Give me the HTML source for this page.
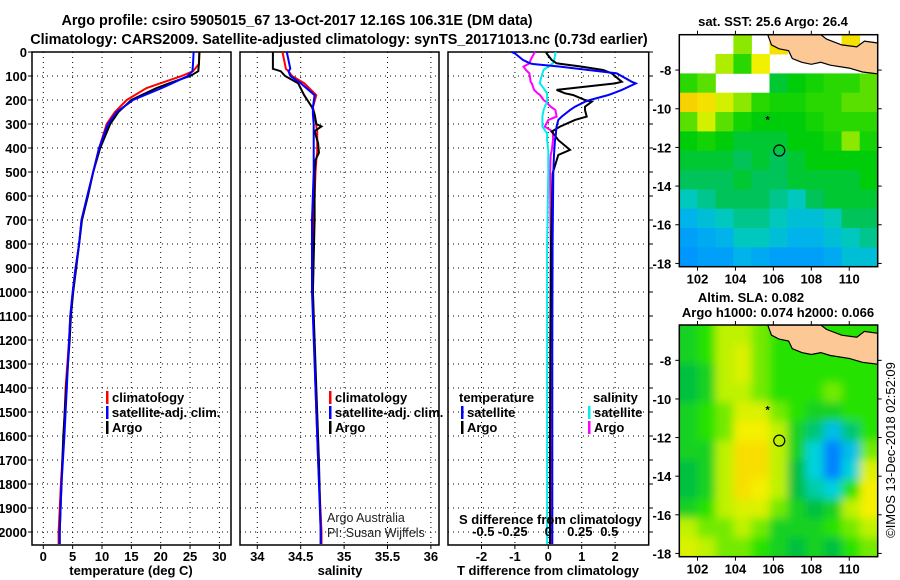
<!DOCTYPE html>
<html><head><meta charset="utf-8"><style>
body{margin:0;background:#fff}
svg{display:block;font-family:"Liberation Sans",Arial,sans-serif}
.b{font-weight:bold}
</style></head><body>
<svg id="c" width="900" height="580" viewBox="0 0 900 580">
<defs>
<clipPath id="m1c"><rect x="679.3" y="34.7" width="198.4" height="232"/></clipPath>
<clipPath id="m2c"><rect x="679.3" y="325" width="198.4" height="231.7"/></clipPath>
<filter id="blur" x="-5%" y="-5%" width="110%" height="110%"><feGaussianBlur stdDeviation="4.5"/></filter>
</defs>
<g class="b" font-size="14.4">
<text x="297" y="25" text-anchor="middle">Argo profile: csiro 5905015_67 13-Oct-2017 12.16S 106.31E (DM data)</text>
<text x="339" y="44" text-anchor="middle">Climatology: CARS2009. Satellite-adjusted climatology: synTS_20171013.nc (0.73d earlier)</text>
</g>
<g id="g"></g>
</svg>
<script>
// ---------- profile data ----------
const tDepth = [0,50,80,100,130,150,200,250,300,400,500,600,700,800,900,1000,1100,1200,1400,1600,1800,2000,2050];
const tClim  = [26.6,26.5,25.5,23.6,20.0,17.6,14.2,12.2,10.8,9.5,8.5,7.5,6.5,6.1,5.5,5.0,4.6,4.4,3.8,3.5,3.0,2.6,2.6];
const tSat   = [25.6,25.5,25.4,24.6,22.0,20.2,15.3,12.5,11.0,9.5,8.5,7.5,6.5,6.1,5.5,5.0,4.6,4.4,4.0,3.6,3.1,2.8,2.8];
const tArgo  = [26.6,26.5,26.4,25.0,21.5,19.3,15.0,12.8,11.4,9.7,8.5,7.6,6.6,6.1,5.6,5.1,4.7,4.5,3.9,3.4,3.1,2.8,2.8];
const sDepth = [0,70,80,100,130,180,230,260,300,310,330,380,420,450,500,700,1000,1400,1700,2000,2050];
const sClim  = [34.29,34.33,34.36,34.40,34.54,34.68,34.64,34.66,34.68,34.68,34.69,34.69,34.69,34.68,34.67,34.65,34.64,34.67,34.70,34.74,34.74];
const sSat   = [34.34,34.38,34.36,34.38,34.50,34.66,34.64,34.64,34.65,34.65,34.65,34.65,34.65,34.65,34.65,34.63,34.63,34.67,34.70,34.73,34.73];
const sArgo  = [34.18,34.18,34.27,34.32,34.47,34.54,34.63,34.66,34.68,34.74,34.66,34.70,34.71,34.67,34.66,34.66,34.64,34.68,34.71,34.73,34.73];
const dDepth = [0,6,33,47,50,61,75,89,124,131,158,172,179,200,207,228,242,269,283,311,332,339,367,408,429,506,800,1200,1600,2050];
const dTsat  = [-1.1,-1.0,-0.76,-0.55,-0.46,0.35,1.2,2.05,2.5,2.62,2.2,1.94,1.8,1.25,1.1,0.8,0.65,0.4,0.3,0.25,0.23,0.23,0.2,0.18,0.17,0.15,0.13,0.12,0.12,0.12];
const dTargo = [-0.05,-0.05,0.1,0.25,0.4,1.0,1.64,1.9,2.2,2.0,0.25,0.5,0.74,1.1,1.3,1.1,1.1,1.15,0.8,0.35,0.1,0.15,0.3,0.65,0.3,0.13,0.08,0.06,0.05,0.05];
const dSsat  = [0.06,0.06,0.05,0.04,0.03,0.0,-0.04,-0.05,-0.07,-0.07,-0.03,-0.01,-0.01,-0.01,-0.01,-0.03,-0.04,-0.05,-0.05,-0.05,-0.02,-0.01,-0.01,0.0,0.0,0.0,-0.01,-0.01,-0.01,-0.01];
const dSargo = [-0.11,-0.12,-0.15,-0.16,-0.17,-0.21,-0.19,-0.16,-0.15,-0.14,-0.12,-0.09,-0.07,-0.04,-0.02,0.02,0.06,0.07,0.0,-0.03,0.04,0.04,0.04,0.03,0.02,0.015,0.02,0.02,0.02,0.02];
const depthTicks = [0,100,200,300,400,500,600,700,800,900,1000,1100,1200,1300,1400,1500,1600,1700,1800,1900,2000];
const tTicks = [0,5,10,15,20,25,30];
const sTicks = [34,34.5,35,35.5,36];
const dTTicks = [-2,-1,0,1,2];
const dSTicks = [-0.5,-0.25,0,0.25,0.5];
const dSTickLabels = ["-0.5","-0.25","0","0.25","0.5"];
// ---------- map data ----------
const mapLons = [101.04,111.5];
const mapLats = [-6.17,-18.17];
const lonTicks = [102,104,106,108,110];
const latTicks = [-8,-10,-12,-14,-16,-18];
const sstGrid = [
[null,null,null,25.8,null,26.3,null,null,null,26.3,null],
[null,null,25.9,25.6,26.2,null,null,null,null,null,null],
[25.6,25.7,null,null,null,25.3,25.4,25.5,25.6,25.6,25.7],
[26.4,26.3,26.0,25.8,25.6,25.5,25.5,25.6,25.6,25.7,25.7],
[25.7,26.0,25.7,25.5,25.4,25.4,25.4,25.5,25.6,25.6,25.6],
[25.4,25.5,25.4,25.3,25.3,25.3,25.4,25.4,25.5,25.8,25.5],
[25.3,25.3,25.3,25.2,25.3,25.2,25.3,25.4,25.4,25.4,25.4],
[25.2,25.2,25.2,25.3,25.2,25.2,25.3,25.3,25.3,25.3,25.4],
[25.0,25.1,25.2,25.2,25.2,25.1,25.0,25.2,25.3,25.3,25.3],
[24.8,24.9,25.0,25.1,25.1,25.0,24.9,24.9,25.0,25.2,25.2],
[24.6,24.7,24.8,25.0,25.0,24.9,24.8,24.8,24.9,25.0,25.1],
[24.5,24.6,24.6,24.8,24.7,24.6,24.6,24.6,24.7,24.9,24.9]];
const slaGrid = [
[0.07,0.08,0.10,0.10,0.09,0.08,0.08,0.08,0.08,0.08,0.08],
[0.07,0.08,0.10,0.11,0.09,0.08,0.08,0.08,0.08,0.08,0.08],
[0.06,0.07,0.10,0.11,0.09,0.08,0.08,0.08,0.08,0.08,0.08],
[0.06,0.07,0.10,0.10,0.09,0.08,0.08,0.08,0.09,0.08,0.08],
[0.07,0.08,0.09,0.11,0.11,0.09,0.08,0.07,0.07,0.08,0.08],
[0.07,0.08,0.09,0.12,0.12,0.10,0.07,0.05,0.02,0.05,0.08],
[0.07,0.07,0.10,0.13,0.13,0.10,0.07,0.03,-0.03,0.02,0.09],
[0.06,0.07,0.10,0.13,0.13,0.10,0.06,0.03,-0.03,0.03,0.11],
[0.06,0.07,0.10,0.13,0.12,0.10,0.06,0.04,0.03,0.08,0.12],
[0.07,0.08,0.10,0.11,0.11,0.09,0.07,0.06,0.07,0.10,0.12],
[0.10,0.09,0.09,0.10,0.09,0.07,0.07,0.07,0.08,0.09,0.10],
[0.11,0.10,0.09,0.09,0.08,0.07,0.06,0.07,0.06,0.08,0.09]];
const landLon = [105.7,105.9,106.3,106.8,107.0,107.5,108.0,108.5,109.0,110.0,110.7,111.5,111.5,110.8,110.4,109.6,108.8,108.5];
const landLat = [-6.17,-6.7,-6.9,-7.0,-7.4,-7.6,-7.7,-7.6,-7.75,-7.9,-8.1,-8.2,-6.6,-6.5,-6.8,-6.7,-6.4,-6.17];
const argoPos = [106.31,-12.16];
const prevPos = [105.7,-10.5];

const NS='http://www.w3.org/2000/svg';
const G=document.getElementById('g');
function el(tag,attrs,parent){const e=document.createElementNS(NS,tag);for(const k in attrs)e.setAttribute(k,attrs[k]);(parent||G).appendChild(e);return e;}
function txt(x,y,s,attrs,parent){const e=el('text',Object.assign({x:x,y:y},attrs||{}),parent);e.textContent=s;return e;}

const yTop=52, yBot=545;
const yD=d=>yTop+d*0.24;
const xT=v=>43.3+5.87*v;
const xS=v=>257.3+86.8*(v-34);
const xDT=v=>548.3+33.4*v;
const xDS=v=>548.3+118*v;

function panel(x0,x1,name,xs,ticks,labels,fx){
  const g=el('g',{});
  
  
  depthTicks.forEach(d=>{ if(d>0){const l=el('line',{x1:x0,x2:x1,y1:yD(d),y2:yD(d),stroke:'#000','stroke-width':1,'stroke-dasharray':'1,4'},g);
    }});
  ticks.forEach((t,i)=>{const x=fx(t);
    const l=el('line',{x1:x,x2:x,y1:yTop,y2:yBot,stroke:'#000','stroke-width':1,'stroke-dasharray':'1,4'},g);
    
    el('line',{x1:x,x2:x,y1:yBot,y2:yBot+4,stroke:'#000'},g);
    if(labels){const t2=txt(x,yBot+16,labels[i],{'text-anchor':'middle','font-size':13,'font-weight':'bold'},g);
      }
  });
  const r=el('rect',{x:x0,y:yTop,width:x1-x0,height:yBot-yTop,fill:'none',stroke:'#000','stroke-width':1.5},g);
  
  return g;
}
function line(depths,vals,fx,color,name,g){
  const pts=depths.map((d,i)=>fx(vals[i]).toFixed(1)+','+yD(d).toFixed(1)).join(' ');
  const p=el('polyline',{points:pts,fill:'none',stroke:color,'stroke-width':2},g);
  
  
}
// panel 1
const p1=panel(32,231,'temperature-panel',null,tTicks,tTicks.map(String),xT);
depthTicks.forEach(d=>{el('line',{x1:28,x2:32,y1:yD(d),y2:yD(d),stroke:'#000'},p1);
  const t=txt(27,yD(d)+5,String(d),{'text-anchor':'end','font-size':13,'font-weight':'bold'},p1);
  });
line(tDepth,tClim,xT,'#f00','temp-climatology-line',p1);
line(tDepth,tArgo,xT,'#000','temp-argo-line',p1);
line(tDepth,tSat,xT,'#00f','temp-satellite-line',p1);
// panel 2
const p2=panel(240,439,'salinity-panel',null,sTicks,sTicks.map(String),xS);
line(sDepth,sClim,xS,'#f00','sal-climatology-line',p2);
line(sDepth,sArgo,xS,'#000','sal-argo-line',p2);
line(sDepth,sSat,xS,'#00f','sal-satellite-line',p2);
// panel 3
const p3=panel(448,648.7,'difference-panel',null,dTTicks,dTTicks.map(String),xDT);
depthTicks.forEach(d=>{el('line',{x1:648.7,x2:653,y1:yD(d),y2:yD(d),stroke:'#000'},p3);});
line(dDepth,dSargo,xDS,'#f0f','sdiff-argo-line',p3);
line(dDepth,dSsat,xDS,'#0ee','sdiff-satellite-line',p3);
line(dDepth,dTargo,xDT,'#000','tdiff-argo-line',p3);
line(dDepth,dTsat,xDT,'#00f','tdiff-satellite-line',p3);
dSTicks.forEach((v,i)=>{const t=txt(xDS(v)+(v<0?-6:v>0?2:0),536,dSTickLabels[i],{'text-anchor':'middle','font-size':13,'font-weight':'bold'},p3);
  });
txt(459,524,'S difference from climatology',{'font-size':13,'font-weight':'bold'},p3);

// axis titles
[[131,'temperature (deg C)','x-axis-title-temperature'],[340,'salinity','x-axis-title-salinity'],[548,'T difference from climatology','x-axis-title-tdiff']].forEach(a=>{
  const t=txt(a[0],575,a[1],{'text-anchor':'middle','font-size':13,'font-weight':'bold'});
  });

// legends
function legend(x,y,color,label,g){const e=el('g',{},g);
  
  el('rect',{x:x,y:y-11,width:2.5,height:13,fill:color},e);
  txt(x+6,y,label,{'font-size':13,'font-weight':'bold'},e);}
legend(106,402,'#f00','climatology',p1);legend(106,417,'#00f','satellite-adj. clim.',p1);legend(106,432,'#000','Argo',p1);
legend(329,402,'#f00','climatology',p2);legend(329,417,'#00f','satellite-adj. clim.',p2);legend(329,432,'#000','Argo',p2);
txt(459,402,'temperature',{'font-size':13,'font-weight':'bold'},p3);
txt(593,402,'salinity',{'font-size':13,'font-weight':'bold'},p3);
legend(461,417,'#00f','satellite',p3);legend(461,432,'#000','Argo',p3);
legend(588,417,'#0ee','satellite',p3);legend(588,432,'#f0f','Argo',p3);
const cr=el('g',{},p2);
txt(327,522,'Argo Australia',{'font-size':12.5,fill:'#222'},cr);
txt(327,537,'PI: Susan Wijffels',{'font-size':12.5,fill:'#222'},cr);

// ---------- maps ----------
const mx0=679.3,mx1=877.7;
function mapFns(y0,y1){return {x:lon=>mx0+(lon-mapLons[0])/(mapLons[1]-mapLons[0])*(mx1-mx0),y:lat=>y0+(lat-mapLats[0])/(mapLats[1]-mapLats[0])*(y1-y0)};}
function cmap(stops,v){if(v<=stops[0][0])return 'rgb('+stops[0][1].join(',')+')';
  for(let i=1;i<stops.length;i++){if(v<=stops[i][0]){const a=stops[i-1],b=stops[i],f=(v-a[0])/(b[0]-a[0]);
    const c=a[1].map((q,k)=>Math.round(q+(b[1][k]-q)*f));return 'rgb('+c.join(',')+')';}}
  const l=stops[stops.length-1][1];return 'rgb('+l.join(',')+')';}
const sstStops=[[24.5,[0,150,255]],[24.8,[0,180,235]],[25.0,[0,200,190]],[25.2,[0,195,90]],[25.4,[0,205,10]],[25.6,[40,216,0]],[25.8,[140,232,0]],[26.0,[210,240,0]],[26.2,[240,240,0]],[26.4,[248,210,0]],[26.8,[255,40,0]]];
const slaStops=[[-0.03,[0,130,255]],[0.0,[0,150,255]],[0.03,[0,210,220]],[0.06,[0,192,64]],[0.08,[40,226,0]],[0.10,[190,242,0]],[0.12,[245,240,0]],[0.14,[250,205,0]]];

function drawMap(y0,y1,grid,stops,name,clip,blur){
  const f=mapFns(y0,y1);
  const g=el('g',{});
  const inner=el('g',{'clip-path':'url(#'+clip+')'},g);
  el('rect',{x:mx0,y:y0,width:mx1-mx0,height:y1-y0,fill:blur?'#40d000':'#fff'},inner);
  const cells=el('g',blur?{filter:'url(#blur)'}:{},inner);
  const nr=grid.length,nc=grid[0].length,cw=(mx1-mx0)/nc,ch=(y1-y0)/nr;
  grid.forEach((row,r)=>row.forEach((v,c)=>{if(v===null)return;
    const pad=blur?8:0;
    const x=mx0+c*cw-(c===0?pad:0),y=y0+r*ch-(r===0?pad:0);
    const rc=el('rect',{x:x.toFixed(1),y:y.toFixed(1),width:(cw+0.5+(c===0||c===nc-1?pad:0)).toFixed(1),height:(ch+0.5+(r===0||r===nr-1?pad:0)).toFixed(1),fill:cmap(stops,v)},cells);
    }));
  const pts=landLon.map((lo,i)=>f.x(lo).toFixed(1)+','+f.y(landLat[i]).toFixed(1)).join(' ');
  const land=el('polygon',{points:pts,fill:'#fcc896',stroke:'#000','stroke-width':1.2},inner);
  
  const ac=el('circle',{cx:f.x(argoPos[0]),cy:f.y(argoPos[1]),r:5.5,fill:'none',stroke:'#000','stroke-width':1.2},g);
  
  txt(f.x(prevPos[0]),f.y(prevPos[1])+5,'*',{'text-anchor':'middle','font-size':11,'font-weight':'bold'},g);
  el('rect',{x:mx0,y:y0,width:mx1-mx0,height:y1-y0,fill:'none',stroke:'#000','stroke-width':1.5},g);
  latTicks.forEach(l=>{const y=f.y(l);el('line',{x1:mx0-4,x2:mx0,y1:y,y2:y,stroke:'#000'},g);el('line',{x1:mx1,x2:mx1+4,y1:y,y2:y,stroke:'#000'},g);
    const t=txt(mx0-8,y+5,String(l),{'text-anchor':'end','font-size':13,'font-weight':'bold'},g);
    });
  lonTicks.forEach(l=>{const x=f.x(l);el('line',{x1:x,x2:x,y1:y1,y2:y1+4,stroke:'#000'},g);el('line',{x1:x,x2:x,y1:y0-4,y2:y0,stroke:'#000'},g);
    const t=txt(x,y1+17,String(l),{'text-anchor':'middle','font-size':13,'font-weight':'bold'},g);
    });
  return g;
}
drawMap(34.7,266.7,sstGrid,sstStops,'sst-map','m1c',false);
drawMap(325,556.7,slaGrid,slaStops,'sla-map','m2c',true);
const mt=[[773,26,'sat. SST: 25.6 Argo: 26.4','sst-map-title'],[751,302,'Altim. SLA: 0.082','sla-map-title'],[778,317,'Argo h1000: 0.074 h2000: 0.066','sla-map-subtitle']];
mt.forEach(a=>{const t=txt(a[0],a[1],a[2],{'text-anchor':'middle','font-size':13,'font-weight':'bold'});});
const cp=txt(0,0,'©IMOS 13-Dec-2018 02:52:09',{'text-anchor':'middle','font-size':13,transform:'translate(895,450) rotate(-90)'});

</script>
</body></html>
